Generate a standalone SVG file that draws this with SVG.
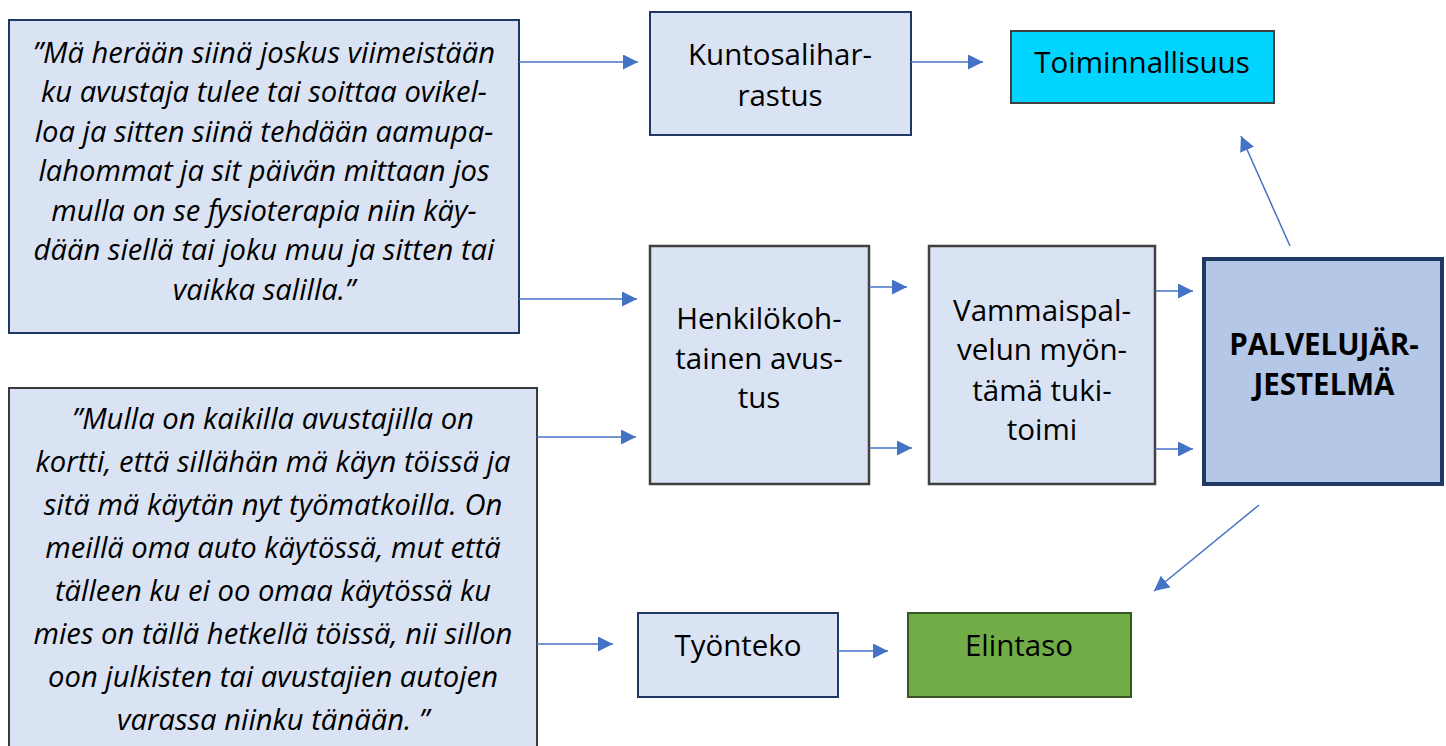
<svg xmlns="http://www.w3.org/2000/svg" width="1446" height="746" viewBox="0 0 1446 746">
<style>
.box{fill:#dae3f3;stroke:#1f3864;stroke-width:2}
.gbox{fill:#dae3f3;stroke:#404040;stroke-width:2.5}
.t{font-family:"Open Sans","Noto Sans","DejaVu Sans",sans-serif;font-size:29.5px;fill:#000;text-anchor:middle}
.q{font-family:"Open Sans","Noto Sans","DejaVu Sans",sans-serif;font-size:29.2px;font-style:italic;fill:#000;text-anchor:middle}
.b{font-weight:bold;font-size:29.5px}
.c{fill:none;stroke:#4472c4;stroke-width:1.5;marker-end:url(#ah)}
</style>
<defs>
<marker id="ah" markerUnits="userSpaceOnUse" markerWidth="16" markerHeight="16" refX="15" refY="7.5" orient="auto">
<path d="M0,0 L15,7.5 L0,15 z" fill="#4472c4"/>
</marker>
</defs>
<rect width="1446" height="746" fill="#fff"/>
<g id="quote1">
<rect class="box" x="9" y="20" width="510" height="313"/>
<text class="q"><tspan x="264" y="63">”Mä herään siinä joskus viimeistään</tspan><tspan x="264" y="102">ku avustaja tulee tai soittaa ovikel-</tspan><tspan x="264" y="142">loa ja sitten siinä tehdään aamupa-</tspan><tspan x="264" y="181">lahommat ja sit päivän mittaan jos</tspan><tspan x="264" y="221">mulla on se fysioterapia niin käy-</tspan><tspan x="264" y="260">dään siellä tai joku muu ja sitten tai</tspan><tspan x="264" y="300">vaikka salilla.”</tspan></text>
</g>
<g id="quote2">
<rect class="box" x="9" y="388" width="528" height="370" style="stroke:#3a3a3a"/>
<text class="q"><tspan x="273" y="429">”Mulla on kaikilla avustajilla on</tspan><tspan x="273" y="472">kortti, että sillähän mä käyn töissä ja</tspan><tspan x="273" y="515">sitä mä käytän nyt työmatkoilla. On</tspan><tspan x="273" y="558">meillä oma auto käytössä, mut että</tspan><tspan x="273" y="601">tälleen ku ei oo omaa käytössä ku</tspan><tspan x="273" y="644">mies on tällä hetkellä töissä, nii sillon</tspan><tspan x="273" y="687">oon julkisten tai avustajien autojen</tspan><tspan x="273" y="730">varassa niinku tänään. ”</tspan></text>
</g>
<g id="kuntosali">
<rect class="box" x="650" y="12" width="261" height="123"/>
<text class="t"><tspan x="780" y="65">Kuntosalihar-</tspan><tspan x="780" y="106">rastus</tspan></text>
</g>
<g id="toiminnallisuus">
<rect x="1011" y="31" width="263" height="72" fill="#00d4ff" stroke="#404040" stroke-width="2"/>
<text class="t" x="1142" y="73">Toiminnallisuus</text>
</g>
<g id="henkilokohtainen">
<rect class="gbox" x="650" y="246" width="219" height="238"/>
<text class="t"><tspan x="759" y="329">Henkilökoh-</tspan><tspan x="759" y="369">tainen avus-</tspan><tspan x="759" y="408">tus</tspan></text>
</g>
<g id="vammaispalvelu">
<rect class="gbox" x="929" y="246" width="226" height="238"/>
<text class="t"><tspan x="1042" y="321">Vammaispal-</tspan><tspan x="1042" y="360">velun myön-</tspan><tspan x="1042" y="401">tämä tuki-</tspan><tspan x="1042" y="440">toimi</tspan></text>
</g>
<g id="palvelujarjestelma">
<rect x="1204" y="259" width="238" height="225" fill="#b4c7e7" stroke="#1f3864" stroke-width="4"/>
<text class="t b"><tspan x="1324" y="355">PALVELUJÄR-</tspan><tspan x="1324" y="395">JESTELMÄ</tspan></text>
</g>
<g id="tyonteko">
<rect class="box" x="638" y="613" width="200" height="84"/>
<text class="t" x="738" y="656">Työnteko</text>
</g>
<g id="elintaso">
<rect x="908" y="613" width="223" height="84" fill="#70ad47" stroke="#375623" stroke-width="2"/>
<text class="t" x="1019" y="656">Elintaso</text>
</g>
<g id="connectors">
<path class="c" d="M519,62 L638,62"/>
<path class="c" d="M911,62 L983,62"/>
<path class="c" d="M519,299 L637,299"/>
<path class="c" d="M537,437 L636,437"/>
<path class="c" d="M869,287 L907,287"/>
<path class="c" d="M869,448 L912,448"/>
<path class="c" d="M1155,291 L1193,291"/>
<path class="c" d="M1155,449 L1193,449"/>
<path class="c" d="M1290,246 L1241,136"/>
<path class="c" d="M1259,505 L1154,591"/>
<path class="c" d="M537,644 L613,644"/>
<path class="c" d="M838,651 L888,651"/>
</g>
</svg>
